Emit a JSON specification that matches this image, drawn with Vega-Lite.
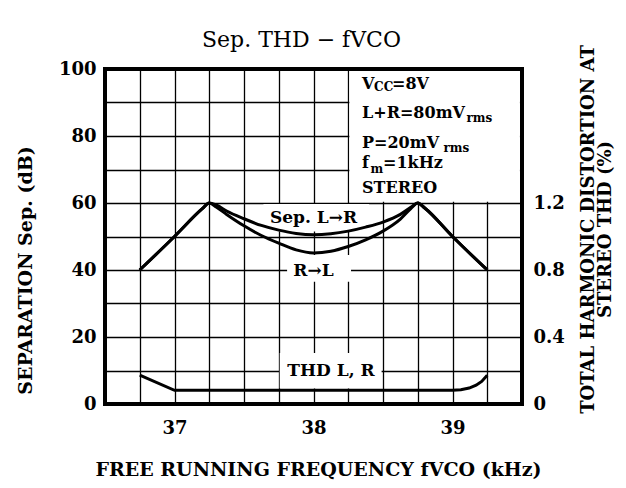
{
  "$schema": "https://vega.github.io/schema/vega-lite/v6.json",
  "width": 417,
  "height": 335,
  "autosize": {"type": "none"},
  "padding": {"left": 105, "top": 69, "right": 104, "bottom": 84},
  "background": "white",
  "title": {"text": "Sep.  THD  −  fVCO", "font": "DejaVu Serif", "fontSize": 22, "fontWeight": "normal", "color": "black", "offset": 5, "dx": -12, "dy": 22},
  "config": {
    "view": {"stroke": "black", "strokeWidth": 4},
    "axis": {
      "labelFont": "DejaVu Serif", "labelFontWeight": "bold", "labelFontSize": 18, "labelColor": "black",
      "titleFont": "DejaVu Serif", "titleFontWeight": "bold", "titleFontSize": 19, "titleColor": "black",
      "ticks": false, "domain": false, "gridColor": "black", "gridWidth": 1.3, "gridOpacity": 1
    },
    "text": {"font": "DejaVu Serif", "fontWeight": "bold", "color": "black"}
  },
  "datasets": {
    "sep": [
      {"s": "L→R", "f": 36.75, "v": 40}, {"s": "L→R", "f": 37.0, "v": 50}, {"s": "L→R", "f": 37.2, "v": 58.3},
      {"s": "L→R", "f": 37.25, "v": 60}, {"s": "L→R", "f": 37.3, "v": 59.4}, {"s": "L→R", "f": 37.375, "v": 57.6},
      {"s": "L→R", "f": 37.5, "v": 55.3}, {"s": "L→R", "f": 37.625, "v": 53.3}, {"s": "L→R", "f": 37.75, "v": 51.9},
      {"s": "L→R", "f": 37.875, "v": 50.9}, {"s": "L→R", "f": 38.0, "v": 50.5}, {"s": "L→R", "f": 38.125, "v": 50.8},
      {"s": "L→R", "f": 38.25, "v": 51.6}, {"s": "L→R", "f": 38.375, "v": 52.8}, {"s": "L→R", "f": 38.5, "v": 54.3},
      {"s": "L→R", "f": 38.625, "v": 56.6}, {"s": "L→R", "f": 38.7, "v": 58.7}, {"s": "L→R", "f": 38.75, "v": 60},
      {"s": "L→R", "f": 38.8, "v": 58.5}, {"s": "L→R", "f": 39.0, "v": 50}, {"s": "L→R", "f": 39.25, "v": 40},
      {"s": "R→L", "f": 36.75, "v": 40}, {"s": "R→L", "f": 37.0, "v": 50}, {"s": "R→L", "f": 37.2, "v": 58.3},
      {"s": "R→L", "f": 37.25, "v": 60}, {"s": "R→L", "f": 37.3, "v": 58.8}, {"s": "R→L", "f": 37.375, "v": 56.6},
      {"s": "R→L", "f": 37.5, "v": 53.2}, {"s": "R→L", "f": 37.625, "v": 50.3}, {"s": "R→L", "f": 37.75, "v": 48.0},
      {"s": "R→L", "f": 37.875, "v": 46.0}, {"s": "R→L", "f": 38.0, "v": 45.1}, {"s": "R→L", "f": 38.125, "v": 45.6},
      {"s": "R→L", "f": 38.25, "v": 47.0}, {"s": "R→L", "f": 38.375, "v": 49.0}, {"s": "R→L", "f": 38.5, "v": 51.6},
      {"s": "R→L", "f": 38.625, "v": 55.2}, {"s": "R→L", "f": 38.7, "v": 58.3}, {"s": "R→L", "f": 38.75, "v": 60},
      {"s": "R→L", "f": 38.8, "v": 58.5}, {"s": "R→L", "f": 39.0, "v": 50}, {"s": "R→L", "f": 39.25, "v": 40}
    ],
    "thd": [
      {"f": 36.75, "v": 0.172}, {"f": 37.0, "v": 0.082}, {"f": 38.0, "v": 0.082}, {"f": 39.0, "v": 0.082},
      {"f": 39.06, "v": 0.085}, {"f": 39.12, "v": 0.095}, {"f": 39.17, "v": 0.112}, {"f": 39.21, "v": 0.135},
      {"f": 39.25, "v": 0.172}
    ],
    "boxes": [
      {"f": 38.258, "f2": 39.485, "v": 60.4, "v2": 99.4},
      {"f": 37.64, "f2": 38.4, "v": 51.5, "v2": 59.7},
      {"f": 37.81, "f2": 38.27, "v": 36.5, "v2": 44.5},
      {"f": 37.757, "f2": 38.49, "v": 4.6, "v2": 15.2}
    ],
    "main": [
      {"f": 38.349, "v": 94.0, "t": "V"},
      {"f": 38.565, "v": 94.0, "t": "=8V"},
      {"f": 38.349, "v": 85.5, "t": "L+R=80mV"},
      {"f": 38.349, "v": 76.5, "t": "P=20mV"},
      {"f": 38.349, "v": 70.4, "t": "f"},
      {"f": 38.5, "v": 70.4, "t": "=1kHz"},
      {"f": 38.349, "v": 63.1, "t": "STEREO"}
    ],
    "subs": [
      {"f": 38.436, "v": 93.4, "t": "CC"},
      {"f": 39.1, "v": 84.3, "t": "rms"},
      {"f": 38.935, "v": 75.3, "t": "rms"},
      {"f": 38.41, "v": 69.0, "t": "m"}
    ],
    "labels": [
      {"f": 38.0, "v": 55.5, "t": "Sep.  L→R"},
      {"f": 38.0, "v": 39.7, "t": "R→L"},
      {"f": 38.126, "v": 9.9, "t": "THD  L,  R"}
    ]
  },
  "layer": [
    {
      "layer": [
        {
          "data": {"name": "boxes"},
          "mark": {"type": "rect", "fill": "white", "stroke": null},
          "encoding": {
            "x": {"field": "f", "type": "quantitative",
                  "scale": {"domain": [36.5, 39.5], "nice": false, "zero": false},
                  "axis": {"values": [36.5, 36.75, 37, 37.25, 37.5, 37.75, 38, 38.25, 38.5, 38.75, 39, 39.25, 39.5],
                           "labelExpr": "datum.value % 1 === 0 ? format(datum.value, 'd') : ''",
                           "labelPadding": 15, "grid": true,
                           "title": "FREE  RUNNING  FREQUENCY  fVCO  (kHz)",
                           "titleX": 213, "titleY": 65, "titleAlign": "center", "titleBaseline": "middle"}},
            "x2": {"field": "f2"},
            "y": {"field": "v", "type": "quantitative",
                  "scale": {"domain": [0, 100], "nice": false},
                  "axis": {"values": [0, 10, 20, 30, 40, 50, 60, 70, 80, 90, 100],
                           "labelExpr": "datum.value % 20 === 0 ? format(datum.value, 'd') : ''",
                           "labelPadding": 9, "grid": true,
                           "title": "SEPARATION  Sep.  (dB)",
                           "titleX": -80, "titleY": 201, "titleAngle": -90, "titleAlign": "center", "titleBaseline": "middle"}},
            "y2": {"field": "v2"}
          }
        },
        {
          "data": {"name": "sep"},
          "mark": {"type": "line", "color": "black", "strokeWidth": 3, "interpolate": "monotone"},
          "encoding": {
            "x": {"field": "f", "type": "quantitative",
                  "axis": {"values": [36.5, 36.75, 37, 37.25, 37.5, 37.75, 38, 38.25, 38.5, 38.75, 39, 39.25, 39.5],
                           "labelExpr": "datum.value % 1 === 0 ? format(datum.value, 'd') : ''",
                           "labelPadding": 15, "grid": true,
                           "title": "FREE  RUNNING  FREQUENCY  fVCO  (kHz)",
                           "titleX": 213, "titleY": 65, "titleAlign": "center", "titleBaseline": "middle"}},
            "y": {"field": "v", "type": "quantitative",
                  "axis": {"values": [0, 10, 20, 30, 40, 50, 60, 70, 80, 90, 100],
                           "labelExpr": "datum.value % 20 === 0 ? format(datum.value, 'd') : ''",
                           "labelPadding": 9, "grid": true,
                           "title": "SEPARATION  Sep.  (dB)",
                           "titleX": -80, "titleY": 201, "titleAngle": -90, "titleAlign": "center", "titleBaseline": "middle"}},
            "detail": {"field": "s"}
          }
        },
        {
          "data": {"name": "main"},
          "mark": {"type": "text", "align": "left", "baseline": "alphabetic", "fontSize": 16},
          "encoding": {
            "x": {"field": "f", "type": "quantitative",
                  "axis": {"values": [36.5, 36.75, 37, 37.25, 37.5, 37.75, 38, 38.25, 38.5, 38.75, 39, 39.25, 39.5],
                           "labelExpr": "datum.value % 1 === 0 ? format(datum.value, 'd') : ''",
                           "labelPadding": 15, "grid": true,
                           "title": "FREE  RUNNING  FREQUENCY  fVCO  (kHz)",
                           "titleX": 213, "titleY": 65, "titleAlign": "center", "titleBaseline": "middle"}},
            "y": {"field": "v", "type": "quantitative",
                  "axis": {"values": [0, 10, 20, 30, 40, 50, 60, 70, 80, 90, 100],
                           "labelExpr": "datum.value % 20 === 0 ? format(datum.value, 'd') : ''",
                           "labelPadding": 9, "grid": true,
                           "title": "SEPARATION  Sep.  (dB)",
                           "titleX": -80, "titleY": 201, "titleAngle": -90, "titleAlign": "center", "titleBaseline": "middle"}},
            "text": {"field": "t"}
          }
        },
        {
          "data": {"name": "subs"},
          "mark": {"type": "text", "align": "left", "baseline": "alphabetic", "fontSize": 12},
          "encoding": {
            "x": {"field": "f", "type": "quantitative",
                  "axis": {"values": [36.5, 36.75, 37, 37.25, 37.5, 37.75, 38, 38.25, 38.5, 38.75, 39, 39.25, 39.5],
                           "labelExpr": "datum.value % 1 === 0 ? format(datum.value, 'd') : ''",
                           "labelPadding": 15, "grid": true,
                           "title": "FREE  RUNNING  FREQUENCY  fVCO  (kHz)",
                           "titleX": 213, "titleY": 65, "titleAlign": "center", "titleBaseline": "middle"}},
            "y": {"field": "v", "type": "quantitative",
                  "axis": {"values": [0, 10, 20, 30, 40, 50, 60, 70, 80, 90, 100],
                           "labelExpr": "datum.value % 20 === 0 ? format(datum.value, 'd') : ''",
                           "labelPadding": 9, "grid": true,
                           "title": "SEPARATION  Sep.  (dB)",
                           "titleX": -80, "titleY": 201, "titleAngle": -90, "titleAlign": "center", "titleBaseline": "middle"}},
            "text": {"field": "t"}
          }
        },
        {
          "data": {"name": "labels"},
          "mark": {"type": "text", "align": "center", "baseline": "middle", "fontSize": 17},
          "encoding": {
            "x": {"field": "f", "type": "quantitative",
                  "axis": {"values": [36.5, 36.75, 37, 37.25, 37.5, 37.75, 38, 38.25, 38.5, 38.75, 39, 39.25, 39.5],
                           "labelExpr": "datum.value % 1 === 0 ? format(datum.value, 'd') : ''",
                           "labelPadding": 15, "grid": true,
                           "title": "FREE  RUNNING  FREQUENCY  fVCO  (kHz)",
                           "titleX": 213, "titleY": 65, "titleAlign": "center", "titleBaseline": "middle"}},
            "y": {"field": "v", "type": "quantitative",
                  "axis": {"values": [0, 10, 20, 30, 40, 50, 60, 70, 80, 90, 100],
                           "labelExpr": "datum.value % 20 === 0 ? format(datum.value, 'd') : ''",
                           "labelPadding": 9, "grid": true,
                           "title": "SEPARATION  Sep.  (dB)",
                           "titleX": -80, "titleY": 201, "titleAngle": -90, "titleAlign": "center", "titleBaseline": "middle"}},
            "text": {"field": "t"}
          }
        }
      ]
    },
    {
      "data": {"name": "thd"},
      "mark": {"type": "line", "color": "black", "strokeWidth": 3},
      "encoding": {
        "x": {"field": "f", "type": "quantitative",
              "axis": {"values": [36.5, 36.75, 37, 37.25, 37.5, 37.75, 38, 38.25, 38.5, 38.75, 39, 39.25, 39.5],
                       "labelExpr": "datum.value % 1 === 0 ? format(datum.value, 'd') : ''",
                       "labelPadding": 15, "grid": true,
                       "title": "FREE  RUNNING  FREQUENCY  fVCO  (kHz)",
                       "titleX": 213, "titleY": 65, "titleAlign": "center", "titleBaseline": "middle"}},
        "y": {"field": "v", "type": "quantitative",
              "scale": {"domain": [0, 2], "nice": false},
              "axis": {"orient": "right", "values": [0, 0.4, 0.8, 1.2], "grid": false,
                       "labelExpr": "datum.value === 0 ? '0' : format(datum.value, '.1f')",
                       "labelPadding": 11,
                       "title": ["TOTAL  HARMONIC  DISTORTION  AT", "STEREO  THD  (%)"],
                       "titleFontSize": 18,
                       "titleX": 66, "titleY": 160, "titleAngle": -90, "titleAlign": "center",
                       "titleBaseline": "middle", "titleLineHeight": 17}}
      }
    }
  ],
  "resolve": {"scale": {"y": "independent"}}
}
